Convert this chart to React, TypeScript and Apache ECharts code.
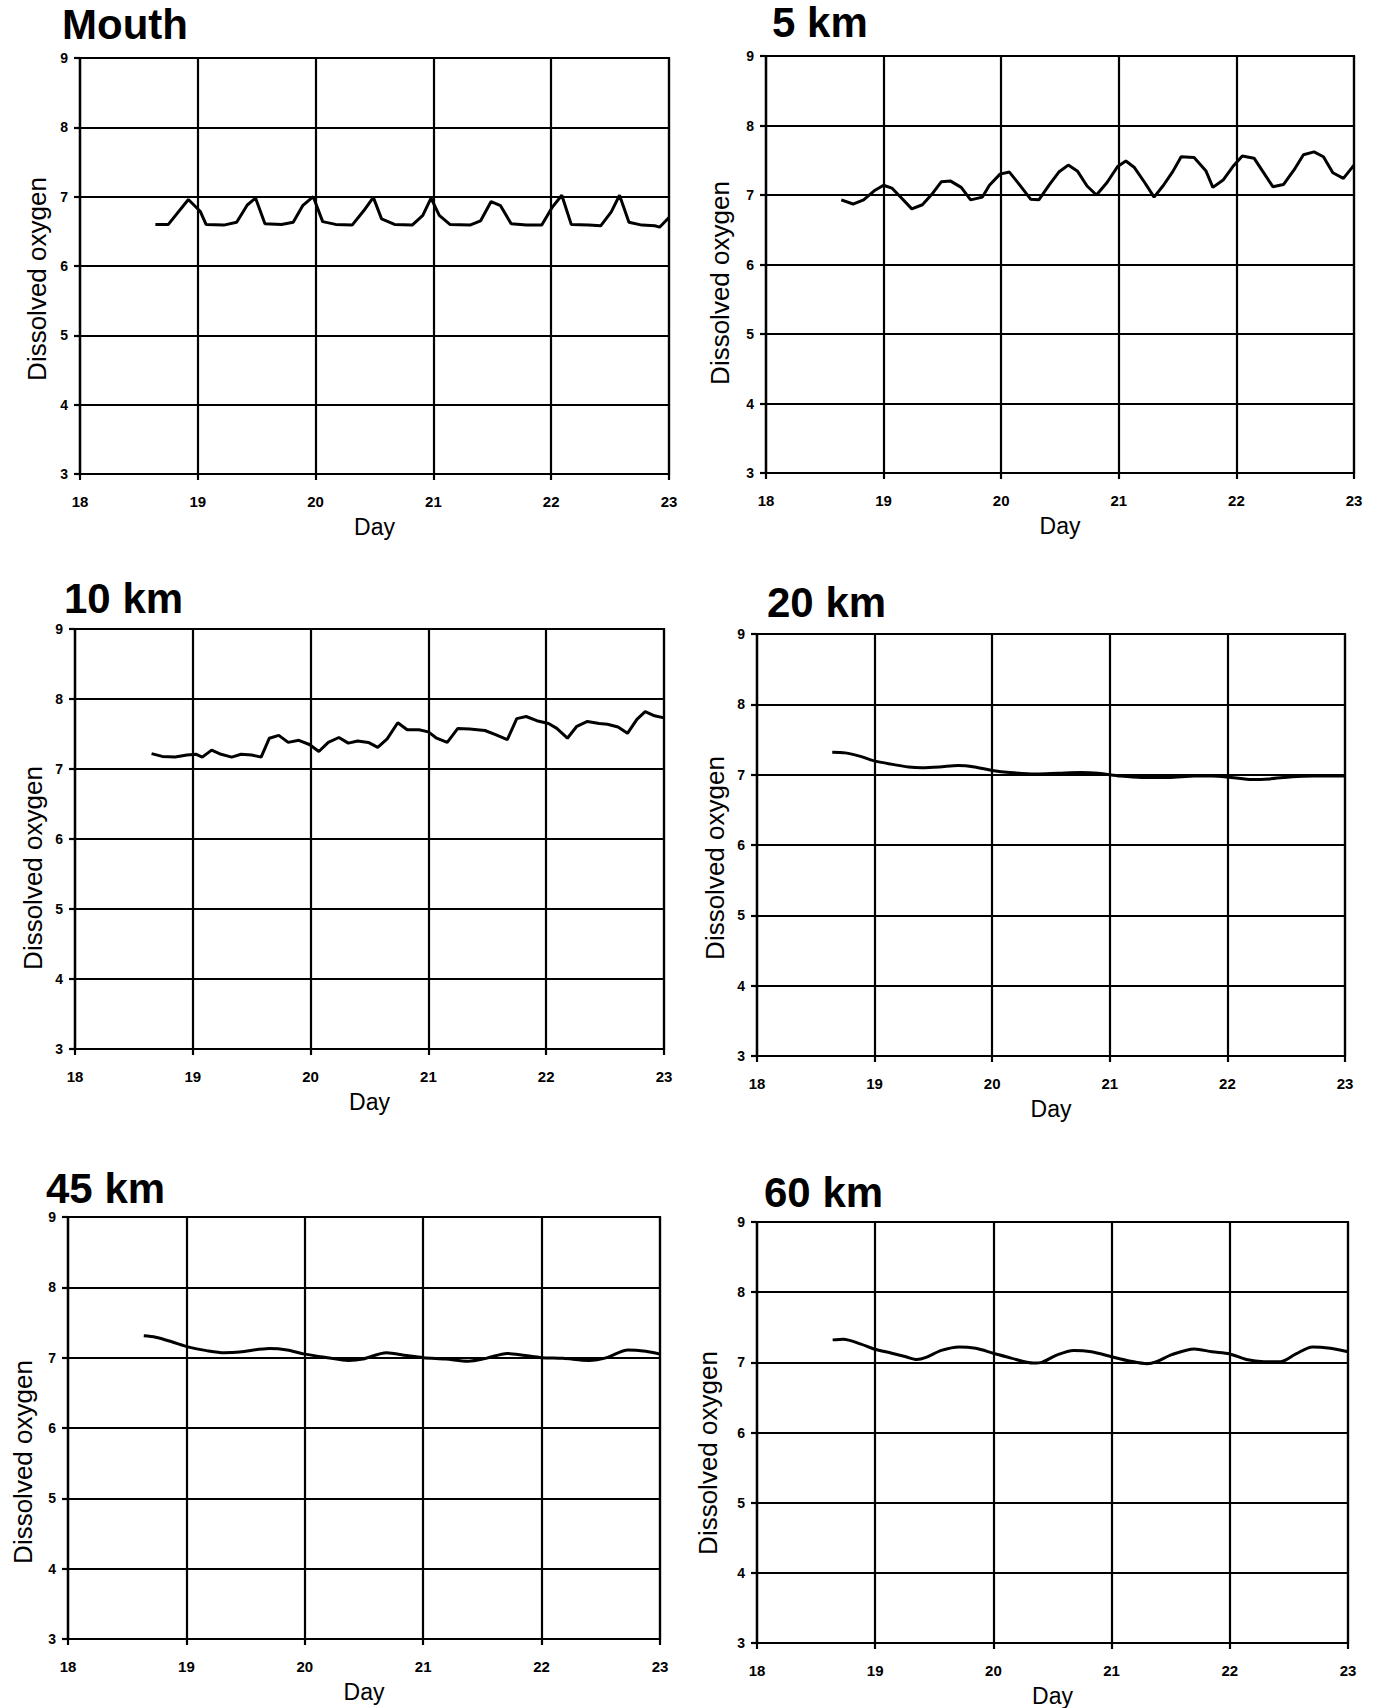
import React, { useEffect, useRef } from "react";
import * as echarts from "echarts";

// Dissolved oxygen (mg/L) against simulation day at six stations along the estuary

const MOUTH_DAYS = [18.64, 18.75, 18.92, 19.02, 19.07, 19.22, 19.33, 19.42, 19.49, 19.57, 19.71, 19.81, 19.89, 19.98, 20.06, 20.17, 20.31, 20.41, 20.49, 20.56, 20.67, 20.82, 20.91, 20.98, 21.05, 21.14, 21.31, 21.4, 21.49, 21.57, 21.66, 21.79, 21.92, 22.01, 22.09, 22.17, 22.32, 22.42, 22.51, 22.58, 22.66, 22.77, 22.88, 22.92, 23.0];
const MOUTH_DO = [6.6, 6.6, 6.96, 6.79, 6.6, 6.59, 6.63, 6.88, 6.98, 6.61, 6.6, 6.63, 6.87, 7.0, 6.64, 6.6, 6.59, 6.8, 6.99, 6.68, 6.6, 6.59, 6.73, 6.98, 6.73, 6.6, 6.59, 6.65, 6.93, 6.87, 6.61, 6.59, 6.59, 6.85, 7.02, 6.6, 6.59, 6.58, 6.78, 7.02, 6.63, 6.59, 6.58, 6.56, 6.7];

const KM5_DAYS = [18.64, 18.74, 18.83, 18.92, 19.0, 19.07, 19.15, 19.24, 19.33, 19.41, 19.49, 19.57, 19.66, 19.74, 19.84, 19.9, 19.99, 20.07, 20.15, 20.25, 20.32, 20.41, 20.49, 20.57, 20.65, 20.73, 20.81, 20.9, 20.99, 21.06, 21.13, 21.22, 21.3, 21.38, 21.46, 21.53, 21.64, 21.74, 21.8, 21.89, 21.97, 22.05, 22.15, 22.22, 22.31, 22.4, 22.49, 22.57, 22.66, 22.74, 22.82, 22.91, 23.0];
const KM5_DO = [6.93, 6.87, 6.93, 7.06, 7.14, 7.1, 6.96, 6.8, 6.86, 7.01, 7.19, 7.2, 7.11, 6.93, 6.97, 7.14, 7.3, 7.33, 7.16, 6.94, 6.93, 7.15, 7.33, 7.43, 7.34, 7.13, 7.0, 7.18, 7.41, 7.49, 7.4, 7.18, 6.97, 7.14, 7.34, 7.55, 7.54, 7.35, 7.11, 7.22, 7.41, 7.56, 7.53, 7.35, 7.12, 7.15, 7.36, 7.58, 7.62, 7.55, 7.32, 7.24, 7.43];

const KM10_DAYS = [18.65, 18.74, 18.85, 18.95, 19.03, 19.08, 19.16, 19.24, 19.33, 19.41, 19.5, 19.58, 19.65, 19.73, 19.81, 19.9, 19.99, 20.07, 20.15, 20.24, 20.32, 20.4, 20.49, 20.57, 20.65, 20.74, 20.82, 20.92, 21.0, 21.07, 21.16, 21.25, 21.35, 21.48, 21.57, 21.67, 21.75, 21.83, 21.92, 22.02, 22.09, 22.18, 22.26, 22.35, 22.45, 22.52, 22.61, 22.69, 22.77, 22.84, 22.92, 23.0];
const KM10_DO = [7.22, 7.18, 7.17, 7.2, 7.21, 7.17, 7.27, 7.21, 7.17, 7.21, 7.2, 7.17, 7.44, 7.48, 7.38, 7.41, 7.35, 7.25, 7.38, 7.45, 7.37, 7.4, 7.38, 7.31, 7.43, 7.66, 7.56, 7.56, 7.53, 7.44, 7.38, 7.58, 7.57, 7.55, 7.49, 7.42, 7.72, 7.75, 7.69, 7.65, 7.58, 7.44, 7.61, 7.68, 7.65, 7.64, 7.6, 7.51, 7.71, 7.82, 7.76, 7.73];

const KM20_DAYS = [18.64, 18.75, 18.88, 18.99, 19.14, 19.29, 19.4, 19.55, 19.71, 19.85, 20.0, 20.15, 20.37, 20.56, 20.75, 20.9, 21.09, 21.27, 21.5, 21.72, 21.87, 22.03, 22.21, 22.36, 22.55, 22.73, 23.0];
const KM20_DO = [7.32, 7.31, 7.26, 7.2, 7.15, 7.11, 7.1, 7.11, 7.13, 7.11, 7.06, 7.03, 7.01, 7.02, 7.03, 7.02, 6.98, 6.96, 6.96, 6.98, 6.98, 6.96, 6.93, 6.94, 6.97, 6.98, 6.98];

const KM45_DAYS = [18.64, 18.74, 18.87, 19.02, 19.17, 19.32, 19.45, 19.7, 19.85, 20.0, 20.19, 20.37, 20.49, 20.69, 20.86, 21.0, 21.19, 21.38, 21.53, 21.71, 21.86, 22.0, 22.18, 22.4, 22.55, 22.73, 22.88, 23.0];
const KM45_DO = [7.31, 7.29, 7.23, 7.15, 7.1, 7.07, 7.08, 7.13, 7.11, 7.05, 7.0, 6.96, 6.98, 7.07, 7.03, 7.0, 6.98, 6.95, 6.99, 7.06, 7.03, 7.0, 6.99, 6.96, 7.0, 7.11, 7.09, 7.05];

const KM60_DAYS = [18.64, 18.73, 18.88, 18.99, 19.14, 19.26, 19.35, 19.43, 19.56, 19.71, 19.85, 20.0, 20.15, 20.34, 20.41, 20.53, 20.68, 20.83, 21.0, 21.15, 21.3, 21.38, 21.51, 21.7, 21.85, 22.0, 22.14, 22.29, 22.43, 22.56, 22.7, 22.85, 23.0];
const KM60_DO = [7.32, 7.33, 7.26, 7.19, 7.13, 7.08, 7.04, 7.07, 7.17, 7.22, 7.2, 7.13, 7.06, 6.99, 7.0, 7.1, 7.17, 7.15, 7.08, 7.02, 6.98, 7.01, 7.11, 7.19, 7.15, 7.12, 7.04, 7.01, 7.01, 7.12, 7.22, 7.2, 7.15];

const STATION_NAMES = ["Mouth", "5 km", "10 km", "20 km", "45 km", "60 km"];
const STATION_DAYS = [MOUTH_DAYS, KM5_DAYS, KM10_DAYS, KM20_DAYS, KM45_DAYS, KM60_DAYS];
const STATION_DO = [MOUTH_DO, KM5_DO, KM10_DO, KM20_DO, KM45_DO, KM60_DO];
const STATION_SMOOTH = [false, false, false, true, true, true];

const DAY_MIN = 18;
const DAY_MAX = 23;
const DO_MIN = 3;
const DO_MAX = 9;
const X_TITLE = "Day";
const Y_TITLE = "Dissolved oxygen";

// Panel placement on the page (pixels)
const LAYOUT = [
  { left: 80, top: 58, width: 589, height: 416, titleX: 62, titleBase: 39, yTitleX: 37, yTitleY: 279 },
  { left: 766, top: 56, width: 588, height: 417, titleX: 772, titleBase: 37, yTitleX: 720, yTitleY: 283 },
  { left: 75, top: 629, width: 589, height: 420, titleX: 64, titleBase: 613, yTitleX: 33, yTitleY: 868 },
  { left: 757, top: 634, width: 588, height: 422, titleX: 767, titleBase: 617, yTitleX: 715, yTitleY: 858 },
  { left: 68, top: 1217, width: 592, height: 422, titleX: 46, titleBase: 1203, yTitleX: 23, yTitleY: 1462 },
  { left: 757, top: 1222, width: 591, height: 421, titleX: 764, titleBase: 1207, yTitleX: 708, yTitleY: 1453 },
];

const FONT = '"Liberation Sans", Arial, Helvetica, sans-serif';
const INK = "#000";

function buildOption() {
  const lineStyle = { color: INK, width: 2.2 };
  const grid = LAYOUT.map((p) => ({
    left: p.left,
    top: p.top,
    width: p.width,
    height: p.height,
    show: true,
    borderColor: INK,
    borderWidth: 2.2,
    backgroundColor: "transparent",
  }));

  const xAxis = LAYOUT.map((_, i) => ({
    type: "value",
    gridIndex: i,
    min: DAY_MIN,
    max: DAY_MAX,
    interval: 1,
    axisLine: { show: true, onZero: false, lineStyle },
    axisTick: { show: true, length: 6, lineStyle },
    splitLine: { show: true, lineStyle },
    axisLabel: { color: INK, fontSize: 15, fontWeight: "bold", fontFamily: FONT, margin: 20 },
    name: X_TITLE,
    nameLocation: "middle",
    nameGap: 41,
    nameTextStyle: { color: INK, fontSize: 23, fontFamily: FONT },
  }));

  const yAxis = LAYOUT.map((_, i) => ({
    type: "value",
    gridIndex: i,
    min: DO_MIN,
    max: DO_MAX,
    interval: 1,
    axisLine: { show: true, onZero: false, lineStyle },
    axisTick: { show: true, length: 6, lineStyle },
    splitLine: { show: true, lineStyle },
    axisLabel: { color: INK, fontSize: 14, fontWeight: "bold", fontFamily: FONT, margin: 12 },
  }));

  const series = STATION_NAMES.map((name, i) => ({
    type: "line",
    name,
    xAxisIndex: i,
    yAxisIndex: i,
    data: STATION_DAYS[i].map((d, k) => [d, STATION_DO[i][k]]),
    showSymbol: false,
    smooth: STATION_SMOOTH[i] ? 0.3 : false,
    lineStyle: { color: INK, width: 3 },
    z: 5,
  }));

  const graphic: any[] = [];
  LAYOUT.forEach((p, i) => {
    graphic.push({
      type: "text",
      x: p.titleX,
      y: p.titleBase - 15,
      style: {
        text: STATION_NAMES[i],
        font: `bold 42px ${FONT}`,
        fill: INK,
        align: "left",
        verticalAlign: "middle",
      },
    });
    graphic.push({
      type: "text",
      x: p.yTitleX,
      y: p.yTitleY,
      rotation: Math.PI / 2,
      style: {
        text: Y_TITLE,
        font: `26px ${FONT}`,
        fill: INK,
        align: "center",
        verticalAlign: "middle",
      },
    });
  });

  return {
    animation: false,
    backgroundColor: "#fff",
    grid,
    xAxis,
    yAxis,
    series,
    graphic,
  };
}

export default function App() {
  const ref = useRef<HTMLDivElement>(null);

  useEffect(() => {
    if (!ref.current) return;
    const chart = echarts.init(ref.current, undefined, { renderer: "svg" });
    chart.setOption(buildOption() as any);
    return () => chart.dispose();
  }, []);

  return (
    <div
      ref={ref}
      style={{ position: "absolute", left: 0, top: 0, width: 1376, height: 1708, background: "#fff" }}
    />
  );
}
